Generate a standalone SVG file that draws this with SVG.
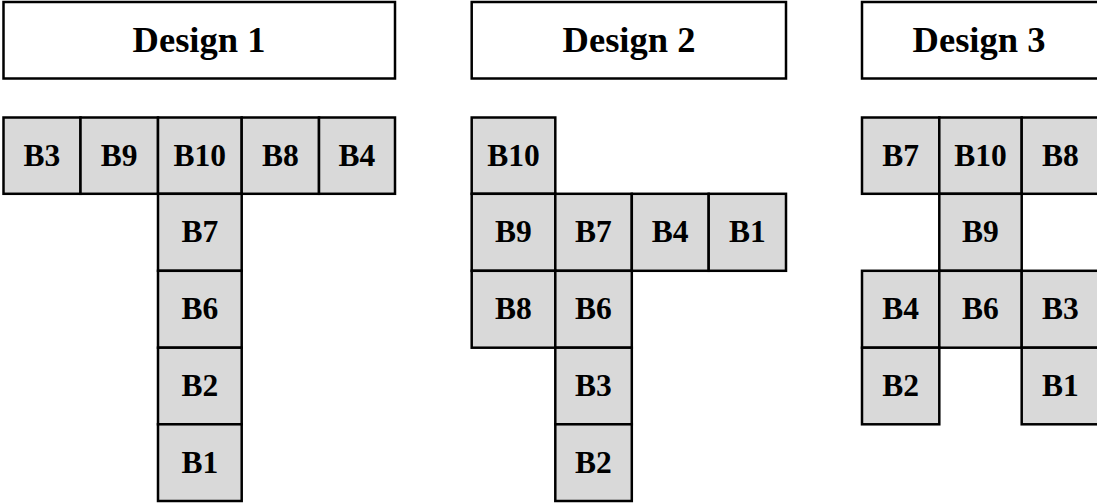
<svg xmlns="http://www.w3.org/2000/svg" width="1097" height="504" viewBox="0 0 1097 504">
<style>
.title{fill:#fff;stroke:#000;stroke-width:2.5}
.cell{fill:#d9d9d9;stroke:#000;stroke-width:2.5}
.tt{font-family:"Liberation Serif","Times New Roman",serif;font-weight:bold;font-size:36.5px;text-anchor:middle;fill:#000}
.ct{font-family:"Liberation Serif","Times New Roman",serif;font-weight:bold;font-size:31.5px;text-anchor:middle;fill:#000}
</style>
<rect width="1097" height="504" fill="#fff"/>
<g id="design1-title"><rect class="title" x="3.5" y="2" width="391.5" height="76.5"/><text class="tt" x="199" y="52">Design 1</text></g>
<g id="design2-title"><rect class="title" x="471.7" y="2" width="314.3" height="76.5"/><text class="tt" x="629" y="52">Design 2</text></g>
<g id="design3-title"><rect class="title" x="862" y="2" width="240" height="76.5"/><text class="tt" x="979" y="52">Design 3</text></g>

<g id="d1-B3"><rect class="cell" x="3.5" y="117.5" width="77" height="76.3"/><text class="ct" x="42" y="165.5">B3</text></g>
<g id="d1-B9"><rect class="cell" x="80.5" y="117.5" width="77.5" height="76.3"/><text class="ct" x="119.2" y="165.5">B9</text></g>
<g id="d1-B10"><rect class="cell" x="158" y="117.5" width="83.7" height="76.3"/><text class="ct" x="199.8" y="165.5">B10</text></g>
<g id="d1-B8"><rect class="cell" x="241.7" y="117.5" width="77.3" height="76.3"/><text class="ct" x="280.3" y="165.5">B8</text></g>
<g id="d1-B4"><rect class="cell" x="319" y="117.5" width="76" height="76.3"/><text class="ct" x="357" y="165.5">B4</text></g>
<g id="d1-B7"><rect class="cell" x="158" y="193.8" width="83.7" height="77"/><text class="ct" x="199.8" y="242.3">B7</text></g>
<g id="d1-B6"><rect class="cell" x="158" y="270.8" width="83.7" height="76.9"/><text class="ct" x="199.8" y="319.2">B6</text></g>
<g id="d1-B2"><rect class="cell" x="158" y="347.7" width="83.7" height="76.6"/><text class="ct" x="199.8" y="396">B2</text></g>
<g id="d1-B1"><rect class="cell" x="158" y="424.3" width="83.7" height="76.7"/><text class="ct" x="199.8" y="472.6">B1</text></g>

<g id="d2-B10"><rect class="cell" x="471.7" y="117.5" width="83.6" height="76.3"/><text class="ct" x="513.5" y="165.5">B10</text></g>
<g id="d2-B9"><rect class="cell" x="471.7" y="193.8" width="83.6" height="77"/><text class="ct" x="513.5" y="242.3">B9</text></g>
<g id="d2-B7"><rect class="cell" x="555.3" y="193.8" width="76.5" height="77"/><text class="ct" x="593.5" y="242.3">B7</text></g>
<g id="d2-B4"><rect class="cell" x="631.8" y="193.8" width="76.9" height="77"/><text class="ct" x="670.2" y="242.3">B4</text></g>
<g id="d2-B1"><rect class="cell" x="708.7" y="193.8" width="77.3" height="77"/><text class="ct" x="747.3" y="242.3">B1</text></g>
<g id="d2-B8"><rect class="cell" x="471.7" y="270.8" width="83.6" height="76.9"/><text class="ct" x="513.5" y="319.2">B8</text></g>
<g id="d2-B6"><rect class="cell" x="555.3" y="270.8" width="76.5" height="76.9"/><text class="ct" x="593.5" y="319.2">B6</text></g>
<g id="d2-B3"><rect class="cell" x="555.3" y="347.7" width="76.5" height="76.6"/><text class="ct" x="593.5" y="396">B3</text></g>
<g id="d2-B2"><rect class="cell" x="555.3" y="424.3" width="76.5" height="76.7"/><text class="ct" x="593.5" y="472.6">B2</text></g>

<g id="d3-B7"><rect class="cell" x="862" y="117.5" width="77.3" height="76.3"/><text class="ct" x="900.6" y="165.5">B7</text></g>
<g id="d3-B10"><rect class="cell" x="939.3" y="117.5" width="82.4" height="76.3"/><text class="ct" x="980.5" y="165.5">B10</text></g>
<g id="d3-B8"><rect class="cell" x="1021.7" y="117.5" width="80" height="76.3"/><text class="ct" x="1060.5" y="165.5">B8</text></g>
<g id="d3-B9"><rect class="cell" x="939.3" y="193.8" width="82.4" height="77"/><text class="ct" x="980.5" y="242.3">B9</text></g>
<g id="d3-B4"><rect class="cell" x="862" y="270.8" width="77.3" height="76.9"/><text class="ct" x="900.6" y="319.2">B4</text></g>
<g id="d3-B6"><rect class="cell" x="939.3" y="270.8" width="82.4" height="76.9"/><text class="ct" x="980.5" y="319.2">B6</text></g>
<g id="d3-B3"><rect class="cell" x="1021.7" y="270.8" width="80" height="76.9"/><text class="ct" x="1060.5" y="319.2">B3</text></g>
<g id="d3-B2"><rect class="cell" x="862" y="347.7" width="77.3" height="76.6"/><text class="ct" x="900.6" y="396">B2</text></g>
<g id="d3-B1"><rect class="cell" x="1021.7" y="347.7" width="80" height="76.6"/><text class="ct" x="1060.5" y="396">B1</text></g>
<g id="connectors"></g>
</svg>
